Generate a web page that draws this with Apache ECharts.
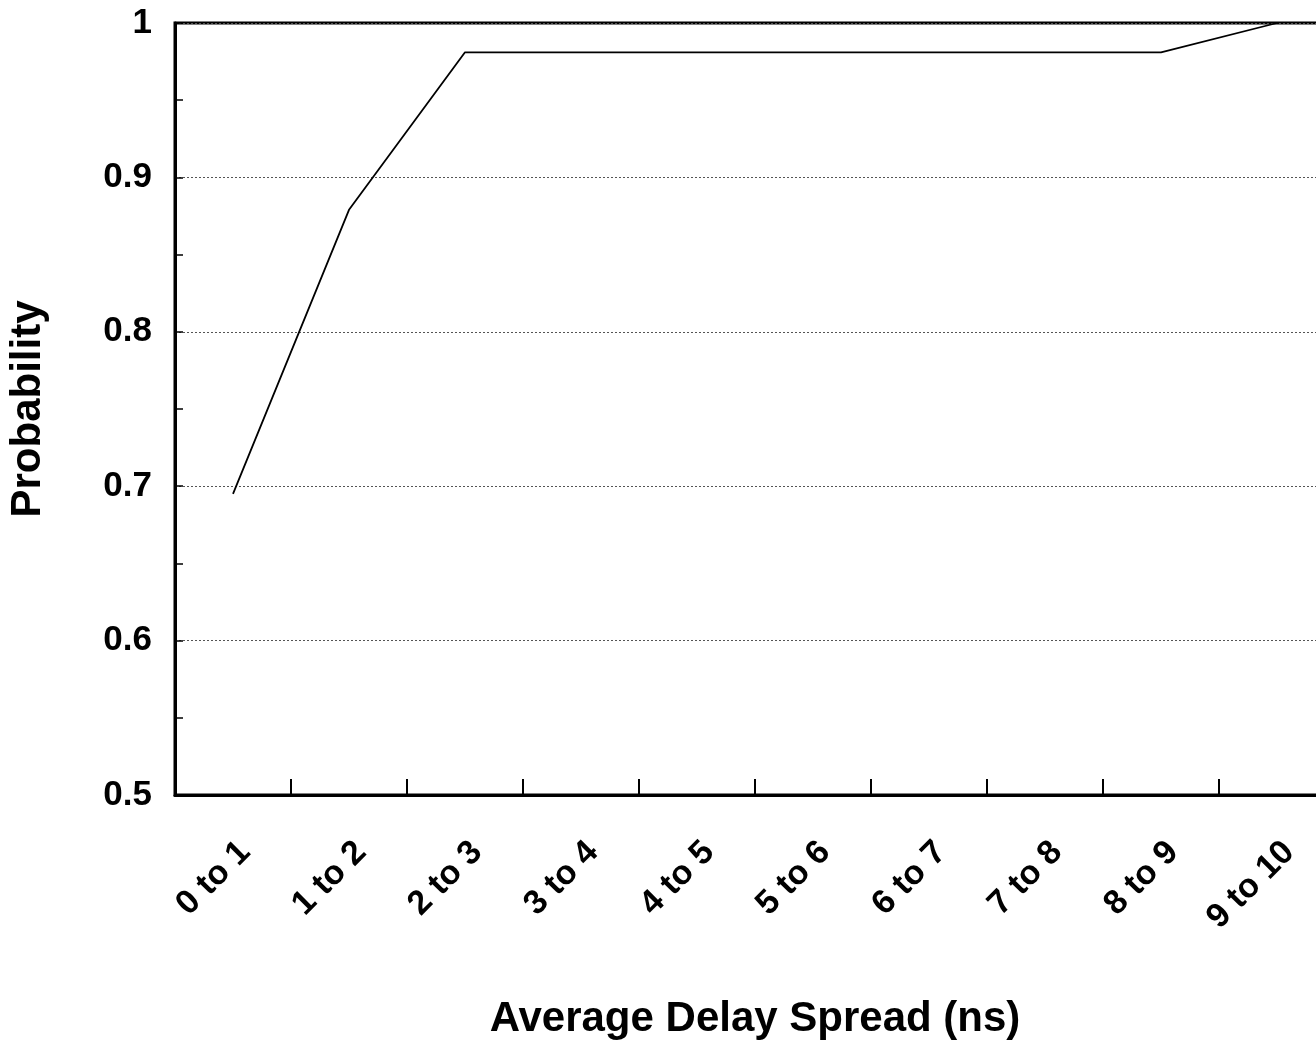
<!DOCTYPE html>
<html>
<head>
<meta charset="utf-8">
<script src="https://cdn.jsdelivr.net/npm/echarts@6/dist/echarts.min.js"></script>
<style>html,body{margin:0;padding:0;background:#fff;overflow:hidden;}#c{width:1316px;height:1044px;}</style>
</head>
<body>
<div id="c"></div>
<script>
const categories = ["0 to 1","1 to 2","2 to 3","3 to 4","4 to 5","5 to 6","6 to 7","7 to 8","8 to 9","9 to 10"];
const probability = [0.695, 0.879, 0.981, 0.981, 0.981, 0.981, 0.981, 0.981, 0.981, 1.0];

const chart = echarts.init(document.getElementById('c'), null, {renderer:'canvas'});
const font = '"Liberation Sans", Arial, sans-serif';
chart.setOption({
  animation: false,
  backgroundColor: '#fff',
  grid: { left: 175, top: 23, right: -19, bottom: 249, show: true, borderColor: '#000', borderWidth: 3,
          containLabel: false, outerBoundsMode: 'none' },
  xAxis: {
    type: 'category',
    data: categories,
    boundaryGap: true,
    name: 'Average Delay Spread (ns)',
    nameLocation: 'middle',
    nameGap: 203,
    nameTextStyle: { fontFamily: font, fontWeight: 'bold', fontSize: 42, color: '#000' },
    axisLine: { lineStyle: { color: '#000', width: 3 } },
    axisTick: { show: true, inside: true, length: 16, interval: 0, alignWithLabel: false, lineStyle: { color: '#000', width: 2 } },
    axisLabel: { rotate: 45, interval: 0, margin: 40, verticalAlign: 'top', fontFamily: font, fontWeight: 'bold', fontSize: 34, color: '#000' },
    splitLine: { show: false }
  },
  yAxis: {
    type: 'value',
    min: 0.5, max: 1, interval: 0.1,
    name: 'Probability',
    nameLocation: 'middle',
    nameGap: 126,
    nameTextStyle: { fontFamily: font, fontWeight: 'bold', fontSize: 42, color: '#000' },
    axisLine: { show: true, lineStyle: { color: '#000', width: 3 } },
    axisTick: { show: true, inside: true, length: 8, lineStyle: { color: '#000', width: 1.5 } },
    minorTick: { show: true, splitNumber: 2, length: 8, lineStyle: { color: '#000', width: 1.5 } },
    axisLabel: { margin: 23, fontFamily: font, fontWeight: 'bold', fontSize: 35, color: '#000',
      formatter: v => (Math.abs(v - 1) < 1e-9 ? '1' : v.toFixed(1)) },
    splitLine: { show: true, lineStyle: { color: '#555', width: 1, type: [2, 2] } }
  },
  series: [{
    type: 'line',
    data: probability,
    symbol: 'none',
    lineStyle: { color: '#000', width: 1.8 },
    clip: false
  }]
});
</script>
</body>
</html>
